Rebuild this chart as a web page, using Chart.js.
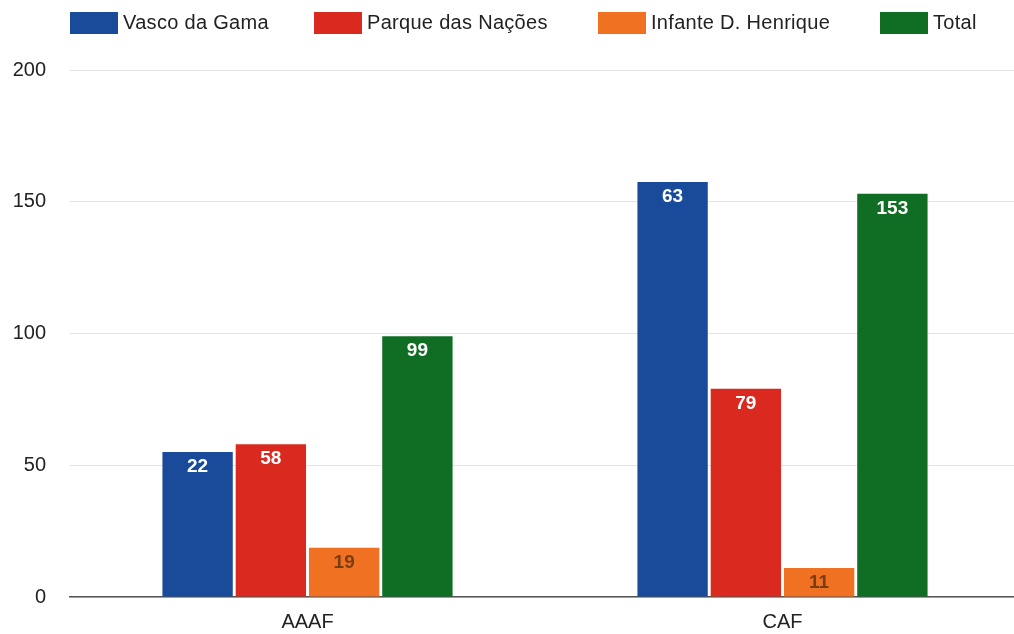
<!DOCTYPE html>
<html>
<head>
<meta charset="utf-8">
<script src="https://cdn.jsdelivr.net/npm/chart.js@4"></script>
<style>
  html, body { margin: 0; padding: 0; background: #fff; overflow: hidden; }
  #wrap { position: relative; width: 1014px; height: 634px; overflow: hidden; }
  #legend { position: absolute; left: 70px; top: 11px; display: flex; align-items: center;
            font-family: 'Liberation Sans', Arial, sans-serif; font-size: 20px; color: #222; white-space: nowrap; }
  #legend .item { display: flex; align-items: center; letter-spacing: 0.3px; }
  #legend .box { width: 48px; height: 22px; margin-right: 5px; }
</style>
</head>
<body>
<div id="wrap">
  <canvas id="myChart" width="1020" height="634"></canvas>
  <div id="legend"></div>
</div>
<script>
const categories = ["AAAF", "CAF"];
const seriesNames = ["Vasco da Gama", "Parque das Nações", "Infante D. Henrique", "Total"];

// bar heights as drawn
const vascoValues = [55, 157.5];
const parqueValues = [58, 79];
const infanteValues = [18.7, 11];
const totalValues = [99, 153];

// numbers printed on the bars
const vascoLabels = ["22", "63"];
const parqueLabels = ["58", "79"];
const infanteLabels = ["19", "11"];
const totalLabels = ["99", "153"];

const yTicks = [0, 50, 100, 150, 200];

const colors = ["#1a4b9b", "#da2a1f", "#f07122", "#0f6d24"];
const labelColors = ["#ffffff", "#ffffff", "#7a3c12", "#ffffff"];
const legendItemWidths = [244, 284, 282, 100];

const allValues = [vascoValues, parqueValues, infanteValues, totalValues];
const allLabels = [vascoLabels, parqueLabels, infanteLabels, totalLabels];

// legend as html
let legend = document.getElementById("legend");
seriesNames.forEach((name, i) => {
  let item = document.createElement("div");
  item.className = "item";
  item.style.width = legendItemWidths[i] + "px";
  let box = document.createElement("span");
  box.className = "box";
  box.style.background = colors[i];
  item.appendChild(box);
  item.appendChild(document.createTextNode(name));
  legend.appendChild(item);
});

const barLabels = {
  id: "barLabels",
  afterDatasetsDraw(chart) {
    const ctx = chart.ctx;
    ctx.save();
    ctx.font = "bold 19px 'Liberation Sans', Arial, sans-serif";
    ctx.textAlign = "center";
    ctx.textBaseline = "middle";
    chart.data.datasets.forEach((ds, i) => {
      chart.getDatasetMeta(i).data.forEach((bar, j) => {
        ctx.fillStyle = labelColors[i];
        ctx.fillText(allLabels[i][j], bar.x, bar.y + 15);
      });
    });
    ctx.restore();
  }
};

const ctx = document.getElementById("myChart").getContext("2d");
const myChart = new Chart(ctx, {
  type: "bar",
  data: {
    labels: categories,
    datasets: seriesNames.map((name, i) => ({
      label: name,
      data: allValues[i],
      backgroundColor: colors[i],
      borderWidth: 0,
      barPercentage: 0.96,
      categoryPercentage: 0.617
    }))
  },
  options: {
    responsive: false,
    animation: false,
    layout: { padding: { top: 70, right: 0, bottom: 0, left: 0 } },
    plugins: {
      legend: { display: false },
      tooltip: { enabled: false }
    },
    scales: {
      x: {
        grid: { display: false, drawTicks: false },
        border: { display: true, color: "#555", width: 1.5 },
        ticks: {
          color: "#222",
          padding: 13,
          font: { family: "'Liberation Sans', Arial, sans-serif", size: 20 }
        },
        afterFit(scale) { scale.height = 37; }
      },
      y: {
        min: 0,
        max: 200,
        afterBuildTicks(scale) { scale.ticks = yTicks.map(v => ({ value: v })); },
        grid: { color: "#e4e4e4", drawTicks: false, lineWidth: 1 },
        border: { display: false },
        ticks: {
          color: "#222",
          padding: 24,
          font: { family: "'Liberation Sans', Arial, sans-serif", size: 20 }
        },
        afterFit(scale) { scale.width = 70; }
      }
    }
  },
  plugins: [barLabels]
});
</script>
</body>
</html>
